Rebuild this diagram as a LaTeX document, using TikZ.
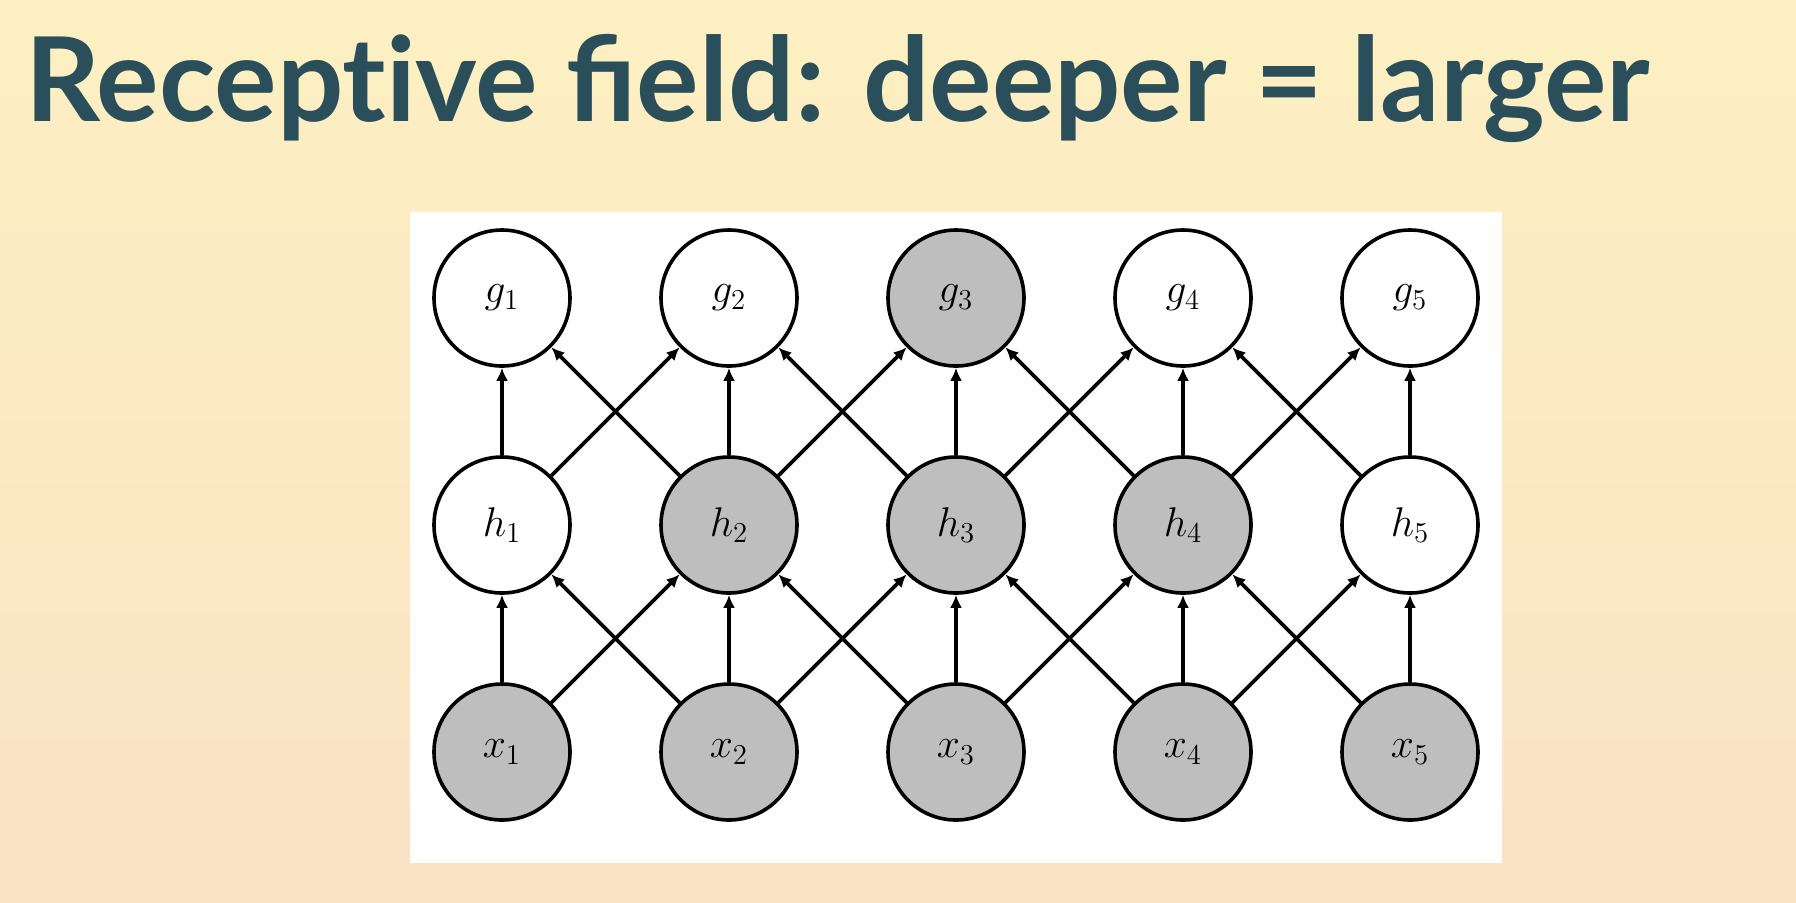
\documentclass[tikz,border=0pt]{standalone}
\usepackage{fontspec}
\setmainfont{Lato}[Ligatures=NoCommon]
\usetikzlibrary{positioning}
\usetikzlibrary{arrows.meta}

\definecolor{bgtop}{RGB}{252,240,194}
\definecolor{bgbot}{RGB}{250,226,196}
\definecolor{titlecol}{RGB}{43,79,90}
\definecolor{litgray}{RGB}{190,190,190}

\begin{document}
\begin{tikzpicture}[x=0.5pt, y=-0.5pt,
offnode/.style={circle, draw=black, line width=1.8pt, fill=white, minimum size=68pt, inner sep=0pt, font=\fontsize{21}{21}\selectfont},
onnode/.style={offnode, fill=litgray},
edge/.style={-{Latex[length=6.5pt,width=6pt]}, line width=1.8pt},
node distance=113.5pt and 113.5pt, on grid,
]
%Background
\shade[top color=bgtop, bottom color=bgbot] (0,0) rectangle (1796,902);
\fill[white] (410,212) rectangle (1502,863);
\node[anchor=base west, inner sep=0pt, text=titlecol, font=\fontsize{58.5}{58.5}\selectfont\bfseries] (title) at (25,121) {Receptive ﬁeld: deeper = larger};

%Nodes
\node[offnode] (g1) at (502,298) {$g_1$};
\node[offnode] (g2) [right=of g1] {$g_2$};
\node[onnode]  (g3) [right=of g2] {$g_3$};
\node[offnode] (g4) [right=of g3] {$g_4$};
\node[offnode] (g5) [right=of g4] {$g_5$};

\node[offnode] (h1) [below=of g1] {$h_1$};
\node[onnode]  (h2) [right=of h1] {$h_2$};
\node[onnode]  (h3) [right=of h2] {$h_3$};
\node[onnode]  (h4) [right=of h3] {$h_4$};
\node[offnode] (h5) [right=of h4] {$h_5$};

\node[onnode]  (x1) [below=of h1] {$x_1$};
\node[onnode]  (x2) [right=of x1] {$x_2$};
\node[onnode]  (x3) [right=of x2] {$x_3$};
\node[onnode]  (x4) [right=of x3] {$x_4$};
\node[onnode]  (x5) [right=of x4] {$x_5$};

%Lines
\draw[edge] (h1) -- (g1);
\draw[edge] (h1) -- (g2);
\draw[edge] (h2) -- (g1);
\draw[edge] (h2) -- (g2);
\draw[edge] (h2) -- (g3);
\draw[edge] (h3) -- (g2);
\draw[edge] (h3) -- (g3);
\draw[edge] (h3) -- (g4);
\draw[edge] (h4) -- (g3);
\draw[edge] (h4) -- (g4);
\draw[edge] (h4) -- (g5);
\draw[edge] (h5) -- (g4);
\draw[edge] (h5) -- (g5);

\draw[edge] (x1) -- (h1);
\draw[edge] (x1) -- (h2);
\draw[edge] (x2) -- (h1);
\draw[edge] (x2) -- (h2);
\draw[edge] (x2) -- (h3);
\draw[edge] (x3) -- (h2);
\draw[edge] (x3) -- (h3);
\draw[edge] (x3) -- (h4);
\draw[edge] (x4) -- (h3);
\draw[edge] (x4) -- (h4);
\draw[edge] (x4) -- (h5);
\draw[edge] (x5) -- (h4);
\draw[edge] (x5) -- (h5);
\end{tikzpicture}
\end{document}
